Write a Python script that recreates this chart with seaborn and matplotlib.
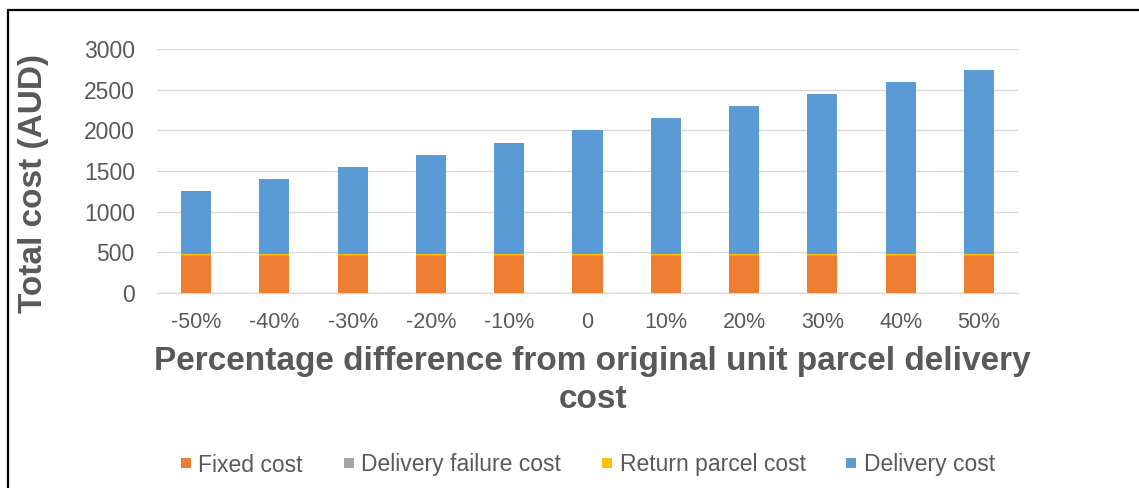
import numpy as np
import pandas as pd
import matplotlib
matplotlib.use("Agg")
import matplotlib.pyplot as plt
from matplotlib.lines import Line2D
import seaborn as sns

# Sensitivity of total cost to the unit parcel delivery cost
categories = ["-50%", "-40%", "-30%", "-20%", "-10%", "0",
              "10%", "20%", "30%", "40%", "50%"]
fixed_cost = [455] * 11
delivery_failure_cost = [5] * 11
return_parcel_cost = [20] * 11
delivery_cost = [770, 920, 1070, 1220, 1370, 1520, 1670, 1820, 1970, 2120, 2270]

series_names = ["Fixed cost", "Delivery failure cost", "Return parcel cost", "Delivery cost"]
series_values = [fixed_cost, delivery_failure_cost, return_parcel_cost, delivery_cost]
series_colors = ["#ED7D31", "#A5A5A5", "#FFC000", "#5B9BD5"]

sns.set_theme(style="white")
plt.rcParams["font.family"] = ["Liberation Sans", "DejaVu Sans"]

text_gray = "#595959"
grid_gray = "#D9D9D9"

fig = plt.figure(figsize=(11.39, 4.88), dpi=100)
ax = fig.add_axes([157 / 1139, 1 - 292.7 / 488, 861 / 1139, 243.4 / 488])

# stacked bars, one layer per cost component
bottom = np.zeros(len(categories))
for name, vals, col in zip(series_names, series_values, series_colors):
    df = pd.DataFrame({"category": categories, "value": vals})
    sns.barplot(data=df, x="category", y="value", order=categories,
                color=col, width=0.385, bottom=bottom, ax=ax,
                saturation=1, linewidth=0, errorbar=None, zorder=3)
    bottom = bottom + np.asarray(vals, dtype=float)

ax.set_xlim(-0.5, len(categories) - 0.5)
ax.set_ylim(0, 3000)
ax.set_yticks(np.arange(0, 3001, 500))
ax.yaxis.grid(True, color=grid_gray, linewidth=1.0, zorder=0)
ax.xaxis.grid(False)
for side in ["top", "right", "left"]:
    ax.spines[side].set_visible(False)
ax.spines["bottom"].set_color(grid_gray)
ax.spines["bottom"].set_linewidth(1.0)
ax.tick_params(axis="both", length=0, labelcolor=text_gray)
ax.tick_params(axis="y", pad=16, labelsize=16.5)
ax.tick_params(axis="x", pad=14, labelsize=15.5)

ax.set_ylabel("Total cost (AUD)", fontsize=24, fontweight="bold", color=text_gray)
ax.yaxis.set_label_coords(-0.144, 0.45)
ax.yaxis.label.set_verticalalignment("center")

ax.set_xlabel("Percentage difference from original unit parcel delivery\ncost",
              fontsize=24, fontweight="bold", color=text_gray, linespacing=1.3)
ax.xaxis.set_label_coords(0.506, -0.36)
ax.xaxis.label.set_verticalalignment("center")
ax.xaxis.label.set_multialignment("center")

handles = [Line2D([], [], marker="s", linestyle="none", markersize=7.5,
                  markerfacecolor=c, markeredgewidth=0) for c in series_colors]
fig.legend(handles, series_names, loc="center", ncol=4,
           bbox_to_anchor=(587 / 1139, 1 - 465 / 488), frameon=False,
           fontsize=16.5, labelcolor=text_gray, handlelength=0.6,
           handletextpad=0.25, columnspacing=1.7)

# outer frame lines
fig.add_artist(Line2D([8 / 1139, 8 / 1139], [0, 1 - 10 / 488],
                      transform=fig.transFigure, color="black", linewidth=1.6))
fig.add_artist(Line2D([8 / 1139, 1], [1 - 10 / 488, 1 - 10 / 488],
                      transform=fig.transFigure, color="black", linewidth=1.6))

fig.savefig("out.png", dpi=100, facecolor="white")
